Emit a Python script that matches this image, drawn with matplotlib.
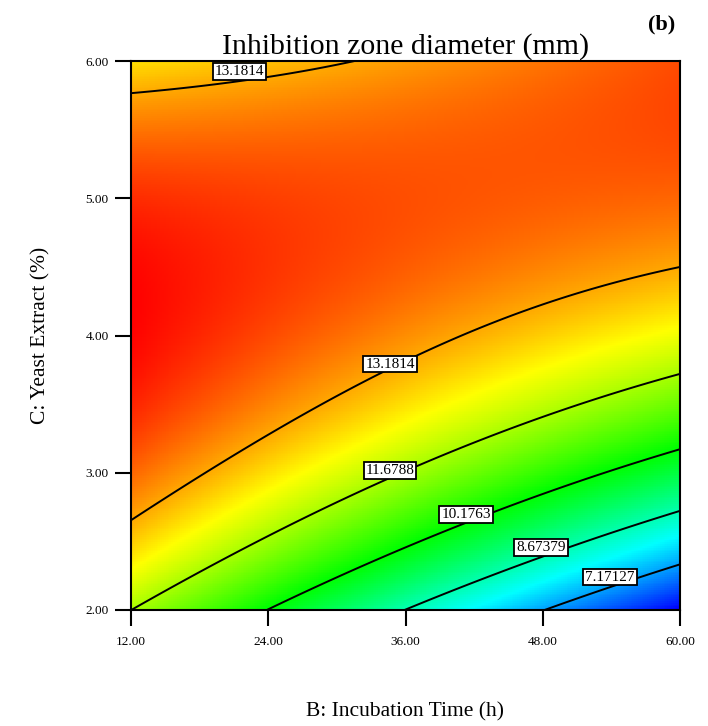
import numpy as np
import matplotlib
matplotlib.use("Agg")
import matplotlib.pyplot as plt
from matplotlib.colors import LinearSegmentedColormap

# ---- data ----
# contour levels (mm)
levels = [7.17127, 8.67379, 10.1763, 11.6788, 13.1814]
level_labels = ["7.17127", "8.67379", "10.1763", "11.6788", "13.1814"]
# points where each contour meets the plot border: B (h), C (%), value (mm)
edge_B = [12.0, 31.0, 12.0, 60.0, 12.0, 60.0, 23.9, 60.0, 35.9, 60.0, 48.0, 60.0]
edge_C = [5.76, 6.00, 2.65, 4.51, 2.00, 3.72, 2.00, 3.17, 2.00, 2.72, 2.00, 2.33]
edge_z = [13.1814, 13.1814, 13.1814, 13.1814, 11.6788, 11.6788,
          10.1763, 10.1763, 8.67379, 8.67379, 7.17127, 7.17127]
# contour label texts and where they sit (B, C)
label_text = ["13.1814", "13.1814", "11.6788", "10.1763", "8.67379", "7.17127"]
label_B = [21.49, 34.64, 34.64, 41.29, 47.85, 53.88]
label_C = [5.925, 3.792, 3.016, 2.694, 2.454, 2.240]
# x / y tick values
b_ticks = [12, 24, 36, 48, 60]
c_ticks = [2, 3, 4, 5, 6]

# ---- quadratic response surface fitted to the read points ----
Bp = np.array(edge_B); Cp = np.array(edge_C); zp = np.array(edge_z)
xc = (Bp - 36) / 24; yc = (Cp - 4) / 2
A = np.column_stack([np.ones_like(xc), xc, yc, xc * yc, xc ** 2, yc ** 2])
coef, *_ = np.linalg.lstsq(A, zp, rcond=None)

Bg = np.linspace(12, 60, 300)
Cg = np.linspace(2, 6, 300)
BB, CC = np.meshgrid(Bg, Cg)
X = (BB - 36) / 24; Y = (CC - 4) / 2
Z = (coef[0] + coef[1] * X + coef[2] * Y + coef[3] * X * Y
     + coef[4] * X ** 2 + coef[5] * Y ** 2)

cmap = LinearSegmentedColormap.from_list(
    "de", ["#0000ff", "#00ffff", "#00ff00", "#ffff00", "#ff0000"], N=2048)

plt.rcParams['font.family'] = ['Liberation Serif', 'DejaVu Serif']

fig = plt.figure(figsize=(7.08, 7.26), dpi=100)
ax = fig.add_axes([131 / 708, 1 - 610 / 726, 549 / 708, 549 / 726])

ax.imshow(Z, cmap=cmap, origin='lower', extent=(12, 60, 2, 6),
          aspect='auto', interpolation='nearest',
          vmin=Z.min(), vmax=Z.max())
ax.contour(BB, CC, Z, levels=levels, colors='black', linewidths=1.4)

for txt, bx, cy in zip(label_text, label_B, label_C):
    ax.text(bx, cy, txt, fontsize=11, ha='center', va='center',
            bbox=dict(boxstyle='square,pad=0.12', facecolor='white',
                      edgecolor='black', linewidth=1.3), zorder=5)

ax.set_xlim(12, 60)
ax.set_ylim(2, 6)
ax.set_xticks(b_ticks)
ax.set_yticks(c_ticks)
ax.set_xticklabels([f"{v:.2f}" for v in b_ticks])
ax.set_yticklabels([f"{v:.2f}" for v in c_ticks])
ax.tick_params(direction='out', length=11.5, width=1.5, labelsize=9.5)
ax.tick_params(axis='x', pad=7)
ax.tick_params(axis='y', pad=4.5)
for s in ax.spines.values():
    s.set_linewidth(1.5)

ax.set_xlabel("B: Incubation Time (h)", fontsize=15.5)
ax.xaxis.set_label_coords(0.5, -0.168)
ax.set_ylabel("C: Yeast Extract (%)", fontsize=15.5)
ax.yaxis.set_label_coords(-0.146, 0.5)
ax.set_title("Inhibition zone diameter (mm)", fontsize=21.5, pad=5)
fig.text(662 / 708, 1 - 24 / 726, "(b)", fontsize=16, fontweight='bold',
         ha='center', va='center')

fig.savefig("out.png", dpi=100)
